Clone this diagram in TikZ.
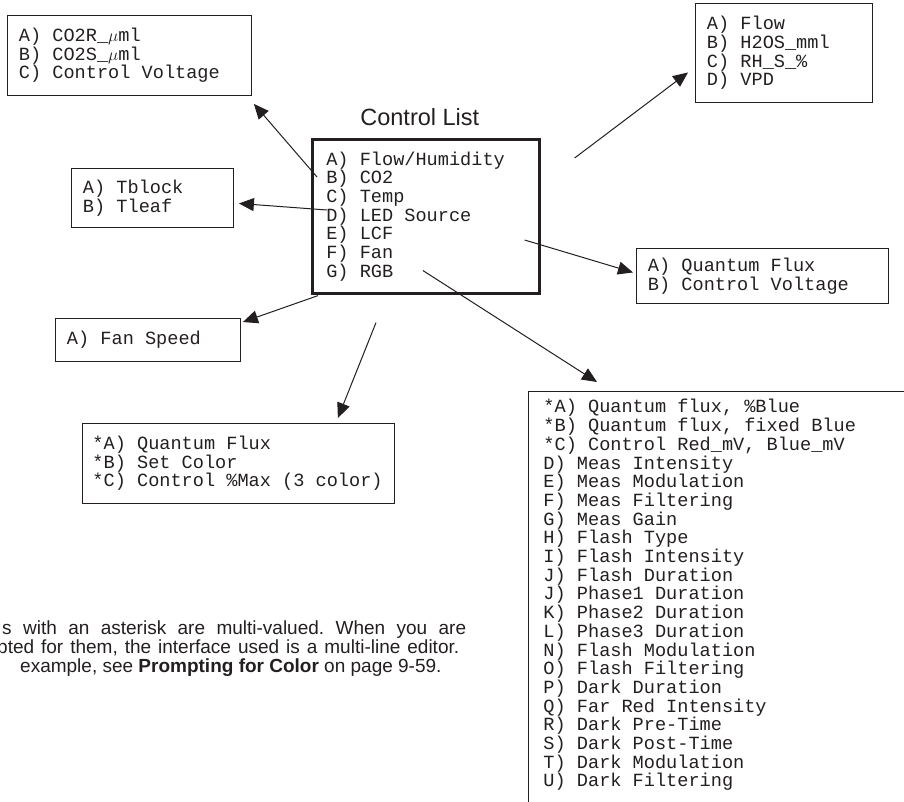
\documentclass[tikz,border=0pt]{standalone}
\usepackage{fontspec}
\setmainfont{Liberation Sans}
\setmonofont{Liberation Mono}
\usetikzlibrary{arrows.meta, positioning}
\definecolor{ink}{HTML}{231F20}
\newcommand{\listfont}{\fontsize{18.6}{18.7}\selectfont\ttfamily}
\newcommand{\notefont}{\fontsize{19}{19}\selectfont\rmfamily\frenchspacing}

\begin{document}
\begin{tikzpicture}[
			x=1pt, y=-1pt,
			listbox/.style={draw=ink, line width=0.9pt, anchor=north west, align=left, inner xsep=11.5pt, inner ysep=0pt, font=\listfont, text=ink,
				execute at begin node={\spaceskip=11.16pt\relax\xspaceskip=11.16pt\relax}},
			mainbox/.style={listbox, line width=2.6pt, inner xsep=14pt},
			heading/.style={font=\fontsize{23.5}{26}\selectfont, text=ink, inner sep=0pt},
			note/.style={font=\notefont, text=ink, inner sep=0pt, anchor=base west},
			pointer/.style={-{Triangle[length=15pt, width=13pt]}, draw=ink, line width=1pt}
		]
		\useasboundingbox (0,0) rectangle (904,801);
		\clip (0,0) rectangle (904,801);

		% Control list (middle)
		\node[mainbox, text width=199pt, minimum height=154pt] (ctrl) at (311,138)
			{A) Flow/Humidity\\B) CO2\\C) Temp\\D) LED Source\\E) LCF\\F) Fan\\G) RGB};
		\node[heading, above=12.5pt of ctrl, xshift=-6pt, anchor=base] (title) {Control List};

		% Sub lists
		\node[listbox, text width=221pt, minimum height=80pt] (co2) at (7,15)
			{A) CO2R\_$\mu$ml\\B) CO2S\_$\mu$ml\\C) Control Voltage};
		\node[listbox, text width=154pt, minimum height=99pt] (h2o) at (695,3)
			{A) Flow\\B) H2OS\_mml\\C) RH\_S\_\%\\D) VPD};
		\node[listbox, text width=139pt, minimum height=59pt] (temp) at (71,168)
			{A) Tblock\\B) Tleaf};
		\node[listbox, text width=229pt, minimum height=55pt] (lcf) at (636,248)
			{A) Quantum Flux\\B) Control Voltage};
		\node[listbox, text width=162pt, minimum height=43pt] (fan) at (55,318)
			{A) Fan Speed};
		\node[listbox, inner xsep=10pt, text width=292pt, minimum height=80pt] (led) at (82,423)
			{*A) Quantum Flux\\{}*B) Set Color\\{}*C) Control \%Max (3 color)};

		% RGB list (cut off by the page)
		\node[listbox, minimum width=420pt, minimum height=450pt] (rgb) at (528,391) {};
		\node[listbox, draw=none, inner sep=0pt] (rgblist) at ([shift={(15,8)}]rgb.north west)
			{*A) Quantum flux, \%Blue\\{}*B) Quantum flux, fixed Blue\\{}*C) Control Red\_mV, Blue\_mV\\
			D) Meas Intensity\\E) Meas Modulation\\F) Meas Filtering\\G) Meas Gain\\
			H) Flash Type\\I) Flash Intensity\\J) Flash Duration\\J) Phase1 Duration\\
			K) Phase2 Duration\\L) Phase3 Duration\\N) Flash Modulation\\O) Flash Filtering\\
			P) Dark Duration\\Q) Far Red Intensity\\R) Dark Pre-Time\\S) Dark Post-Time\\
			T) Dark Modulation\\U) Dark Filtering};

		% Note text
		\node[note] (note1) at (2,634) {\makebox[464pt][s]{s with an asterisk are multi-valued. When you are}};
		\node[note] (note2) at (-3,653) {\makebox[462pt][s]{pted for them, the interface used is a multi-line editor.}};
		\node[note] (note3) at (20,672) {example, see \textbf{Prompting for Color} on page 9-59.};

		% Connectors
		\draw[pointer] ([shift={(6,39)}]ctrl.north west) -- ([shift={(2,8)}]co2.south east);
		\draw[pointer] ([shift={(16,72)}]ctrl.north west) -- ([shift={(5,5.5)}]temp.east);
		\draw[pointer] ([shift={(34,20)}]ctrl.north east) -- ([shift={(-7,19.5)}]h2o.west);
		\draw[pointer] ([shift={(-16,102)}]ctrl.north east) -- ([shift={(-3,-3.5)}]lcf.west);
		\draw[pointer] ([shift={(7,1)}]ctrl.south west) -- ([shift={(2,4)}]fan.north east);
		\draw[pointer] ([shift={(65,28)}]ctrl.south west) -- ([shift={(-57,-5)}]led.north east);
		\draw[pointer] ([shift={(112,-24)}]ctrl.south west) -- ([shift={(69,-9)}]rgb.north west);
	\end{tikzpicture}
\end{document}
